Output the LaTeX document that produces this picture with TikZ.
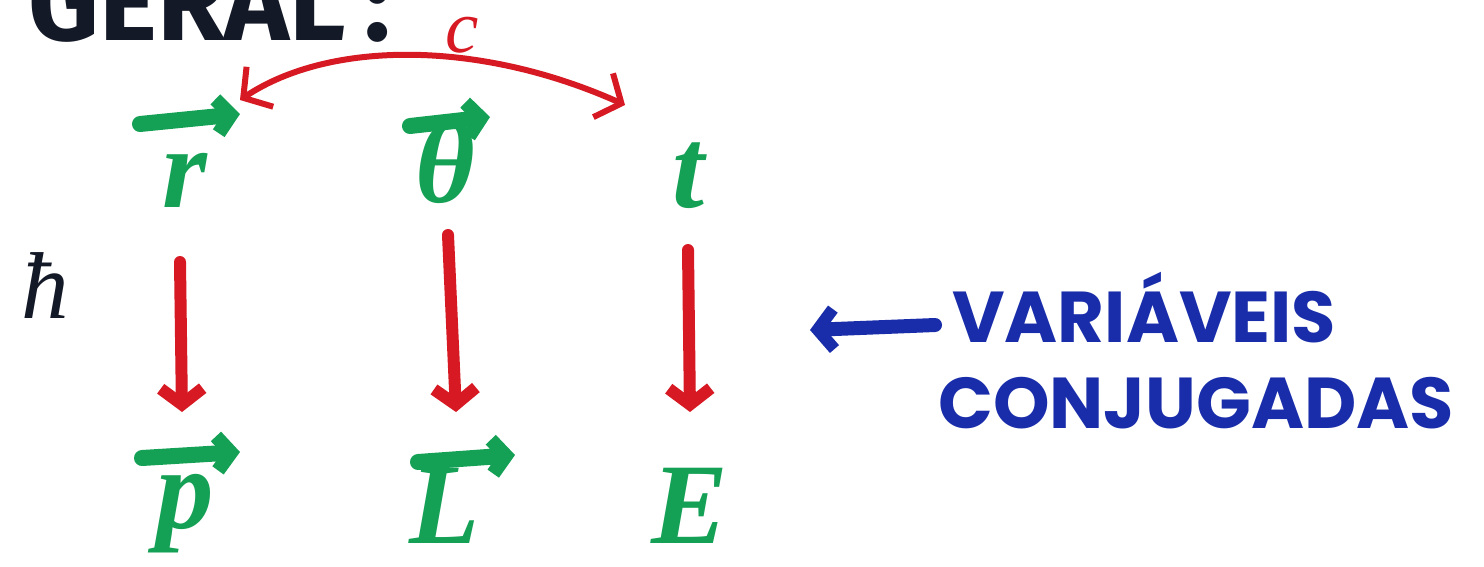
\documentclass[tikz,border=0pt]{standalone}
\usepackage{fontspec}
\setmainfont{Fira Sans}
\newfontfamily\symfont{Liberation Serif}
\newfontfamily\annfont{Poppins}
\usetikzlibrary{arrows.meta,calc}
\definecolor{mkgreen}{RGB}{20,160,85}
\definecolor{mkred}{RGB}{215,25,35}
\definecolor{mkblue}{RGB}{25,45,170}
\definecolor{mkblack}{RGB}{20,25,40}
\tikzset{
  sym/.style={text=mkgreen,font=\symfont\fontsize{115}{115}\selectfont\bfseries\itshape,inner sep=0pt,anchor=base},
  vecbar/.style={draw=mkgreen,line width=16pt,line cap=round,-{Straight Barb[length=14pt,width=34pt,line width=14pt]}},
  redarr/.style={draw=mkred,line width=12pt,line cap=round,-{Straight Barb[length=16pt,width=42pt,line width=12pt]}},
  redcurve/.style={draw=mkred,line width=6pt,line cap=round,{Straight Barb[length=20pt,width=48pt,line width=6pt]}-{Straight Barb[length=20pt,width=48pt,line width=6pt]}},
  bluearr/.style={draw=mkblue,line width=14pt,line cap=round,-{Straight Barb[length=16pt,width=40pt,line width=12pt]}},
  bluetxt/.style={text=mkblue,font=\annfont\fontsize{72}{72}\selectfont\bfseries,inner sep=0pt,anchor=base west},
}
\begin{document}
\begin{tikzpicture}[x=1pt,y=-1pt]
\useasboundingbox (0,0) rectangle (1484,566);
\fill[white] (0,0) rectangle (1484,566);
\begin{scope}
\clip (0,0) rectangle (1484,566);
\node[text=mkblack,font=\fontsize{110}{110}\selectfont\bfseries,anchor=base west,inner sep=0pt] (geral) at (28,40) {GERAL\,:};
\end{scope}
% symbols
\node[sym] (r) at (185,207) {r};
\node[sym] (th) at (445,202) {θ};
\node[sym] (t) at (688,207) {t};
\node[sym] (p) at (185,528) {p};
\node[sym] (L) at (445,543) {L};
\node[sym] (E) at (690,543) {E};
\node[text=mkblack,font=\symfont\fontsize{95}{95}\selectfont\itshape,inner sep=0pt,anchor=base] (hb) at (45,318) {ħ};
% vector arrows
\draw[vecbar] (140,124) -- (240,114);
\draw[vecbar] (410,126) -- (490,117);
\draw[vecbar] (142,458) -- (240,452);
\draw[vecbar] (418,462) -- (515,455);
% red vertical arrows
\draw[redarr] (180,262) -- (182,412);
\draw[redarr] (448,235) -- (456,412);
\draw[redarr] (688,250) -- (690,412);
% red curved arrow with c
\coordinate (cl) at (240,100);
\coordinate (cr) at (625,105);
\draw[redcurve] (cl) .. controls (330,40) and (480,40) .. (cr);
\node[text=mkred,font=\symfont\fontsize{75}{75}\selectfont\itshape,inner sep=0pt,anchor=base,text height=34pt,text depth=0pt] (c) at (462,52) {c};
% blue annotation
\node[bluetxt] (var) at (952,342) {VARIÁVEIS};
\node[bluetxt] (conj) at (938,428) {CONJUGADAS};
\draw[bluearr] (935,325) coordinate (bs) -- (810,330);
\end{tikzpicture}
\end{document}
